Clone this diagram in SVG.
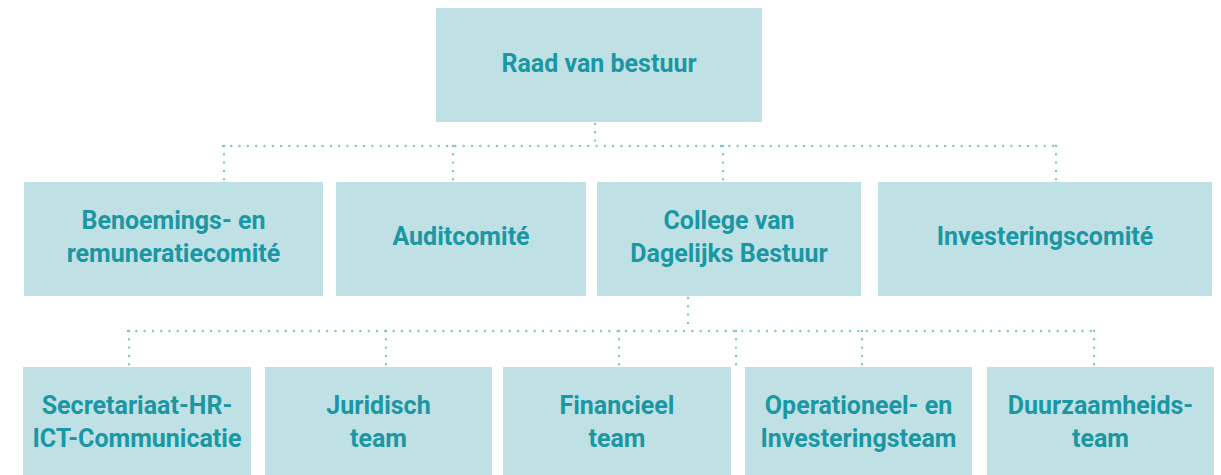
<svg xmlns="http://www.w3.org/2000/svg" width="1221" height="475" viewBox="0 0 1221 475">
  <style>
    .box { fill: #bfe1e5; }
    .lbl { font-family: Roboto, "Liberation Sans", sans-serif; font-weight: 700; font-size: 25px; fill: #1a97a2; text-anchor: middle; }
    .dot { stroke: #7fc4cb; stroke-width: 2.4; stroke-linecap: round; stroke-dasharray: 0 8.3; fill: none; }
  </style>
  <rect width="1221" height="475" fill="#ffffff"/>
  <g id="connectors">
    <path class="dot" d="M595 124 V146"/>
    <path class="dot" d="M223 146 H1057"/>
    <path class="dot" d="M224 146 V181"/>
    <path class="dot" d="M453 146 V181"/>
    <path class="dot" d="M723 146 V181"/>
    <path class="dot" d="M1056 146 V181"/>
    <path class="dot" d="M688 298 V331"/>
    <path class="dot" d="M128 331 H1095"/>
    <path class="dot" d="M129 331 V366"/>
    <path class="dot" d="M386 331 V366"/>
    <path class="dot" d="M619 331 V366"/>
    <path class="dot" d="M736 331 V366"/>
    <path class="dot" d="M862 331 V366"/>
    <path class="dot" d="M1094 331 V366"/>
  </g>
  <g id="raad-van-bestuur">
    <rect class="box" x="436" y="8" width="326" height="114"/>
    <text class="lbl" x="599" y="72">Raad van bestuur</text>
  </g>
  <g id="benoemings-en-remuneratiecomite">
    <rect class="box" x="24" y="182" width="299" height="114"/>
    <text class="lbl" x="173.5" y="229">Benoemings- en</text>
    <text class="lbl" x="173.5" y="262">remuneratiecomité</text>
  </g>
  <g id="auditcomite">
    <rect class="box" x="336" y="182" width="250" height="114"/>
    <text class="lbl" x="461" y="245">Auditcomité</text>
  </g>
  <g id="college-van-dagelijks-bestuur">
    <rect class="box" x="597" y="182" width="264" height="114"/>
    <text class="lbl" x="729" y="229">College van</text>
    <text class="lbl" x="729" y="262">Dagelijks Bestuur</text>
  </g>
  <g id="investeringscomite">
    <rect class="box" x="878" y="182" width="334" height="114"/>
    <text class="lbl" x="1045" y="245">Investeringscomité</text>
  </g>
  <g id="secretariaat">
    <rect class="box" x="23" y="367" width="228" height="115"/>
    <text class="lbl" x="137" y="414">Secretariaat-HR-</text>
    <text class="lbl" x="137" y="447">ICT-Communicatie</text>
  </g>
  <g id="juridisch-team">
    <rect class="box" x="265" y="367" width="227" height="115"/>
    <text class="lbl" x="378.5" y="414">Juridisch</text>
    <text class="lbl" x="378.5" y="447">team</text>
  </g>
  <g id="financieel-team">
    <rect class="box" x="503" y="367" width="228" height="115"/>
    <text class="lbl" x="617" y="414">Financieel</text>
    <text class="lbl" x="617" y="447">team</text>
  </g>
  <g id="operationeel-en-investeringsteam">
    <rect class="box" x="745" y="367" width="227" height="115"/>
    <text class="lbl" x="858.5" y="414">Operationeel- en</text>
    <text class="lbl" x="858.5" y="447">Investeringsteam</text>
  </g>
  <g id="duurzaamheidsteam">
    <rect class="box" x="987" y="367" width="227" height="115"/>
    <text class="lbl" x="1100.5" y="414">Duurzaamheids-</text>
    <text class="lbl" x="1100.5" y="447">team</text>
  </g>
</svg>
